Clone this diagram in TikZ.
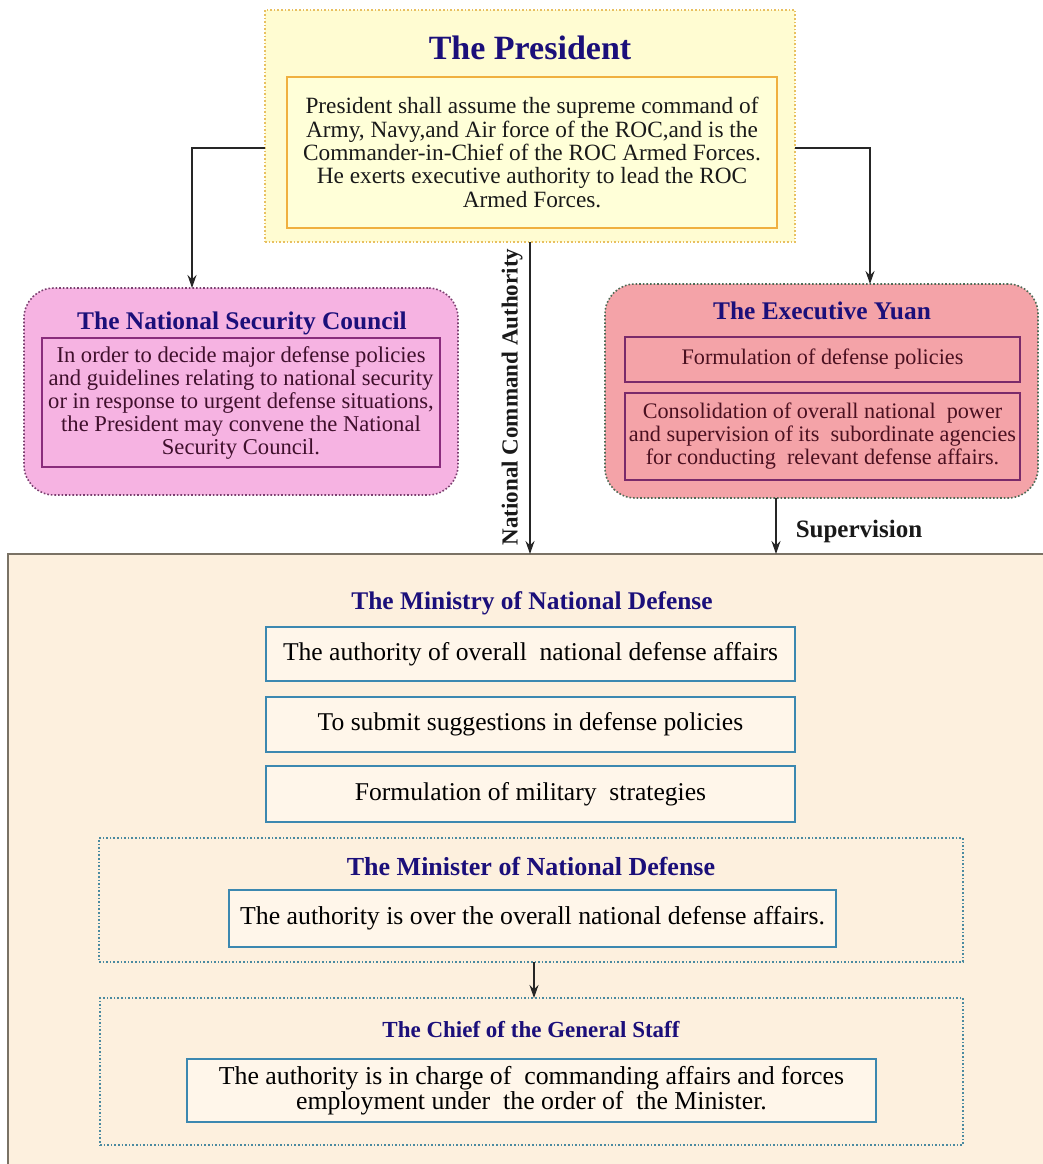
\documentclass[tikz,border=0pt]{standalone}
\usepackage{fontspec}
\setmainfont{Liberation Serif}
\usetikzlibrary{arrows.meta,calc}
\definecolor{navy}{HTML}{1B0F7A}
\definecolor{pyel}{HTML}{FFFCD2}
\definecolor{pyelin}{HTML}{FFFFD8}
\definecolor{porange}{HTML}{F0B040}
\definecolor{pdot}{HTML}{E8C060}
\definecolor{nscpink}{HTML}{F6B3E2}
\definecolor{nscline}{HTML}{8A2C7C}
\definecolor{nscdot}{HTML}{7A4070}
\definecolor{nsctext}{HTML}{3F0F2C}
\definecolor{eyred}{HTML}{F4A3A8}
\definecolor{eydot}{HTML}{4E6A55}
\definecolor{eyline}{HTML}{7A2A6A}
\definecolor{eytext}{HTML}{4A1020}
\definecolor{beige}{HTML}{FDF0DE}
\definecolor{panelline}{HTML}{7A7265}
\definecolor{mndblue}{HTML}{3C88B0}
\definecolor{mndfill}{HTML}{FFF6EA}
\definecolor{mindot}{HTML}{4A8AA0}
\tikzset{
  box/.style={rectangle,inner sep=0pt,outer sep=0pt,align=center},
  presouter/.style={box,draw=pdot,fill=pyel,line width=1.6pt,dotted},
  presinner/.style={box,draw=porange,fill=pyelin,line width=2.5pt,font=\fontsize{23.3}{23.3}\selectfont,text=black!90},
  bigtitle/.style={font=\bfseries\fontsize{34}{36}\selectfont,text=navy},
  title/.style={font=\bfseries\fontsize{25.4}{27}\selectfont,text=navy},
  nscouter/.style={box,draw=nscdot,fill=nscpink,line width=1.6pt,dotted,rounded corners=30pt},
  nscinner/.style={box,draw=nscline,fill=nscpink,line width=2.2pt,font=\fontsize{22.6}{23}\selectfont,text=nsctext},
  eyouter/.style={box,draw=eydot,fill=eyred,line width=1.6pt,dotted,rounded corners=30pt},
  eyinner/.style={box,draw=eyline,fill=eyred,line width=2.2pt,font=\fontsize{22.2}{23}\selectfont,text=eytext},
  mndbox/.style={box,draw=mndblue,fill=mndfill,line width=2.5pt,font=\fontsize{25.6}{25}\selectfont,text=black},
  mindotbox/.style={box,draw=mindot,line width=1.6pt,dotted},
  arr/.style={draw=black!85,line width=1.3pt,-{Stealth[length=13pt,width=9pt]}},
  lbl/.style={font=\bfseries\fontsize{23}{25}\selectfont,text=black!90}
}
\begin{document}
\begin{tikzpicture}[x=1pt,y=-1pt]
\useasboundingbox (0,0) rectangle (1043,1164);
\fill[white] (0,0) rectangle (1043,1164);
% bottom panel
\node[box,fill=beige,minimum width=1035pt,minimum height=610pt] (panel) at (525.5,859) {};
\draw[panelline,line width=1.6pt] (panel.south west) -- (panel.north west) -- (panel.north east);
% President
\node[presouter,minimum width=530pt,minimum height=232pt] (pres) at (530,126) {};
\node[bigtitle] (prestitle) at (530,48) {The President};
\node[presinner,minimum width=490pt,minimum height=151pt] (presbody) at (532,152.5)
 {President shall assume the supreme command of\\Army, Navy,and Air force of the ROC,and is the\\Commander-in-Chief of the ROC Armed Forces.\\He exerts executive authority to lead the ROC\\Armed Forces.};
% NSC
\node[nscouter,minimum width=434pt,minimum height=207pt] (nsc) at (241,391.5) {};
\node[title] (nsctitle) at (242,323) {The National Security Council};
\node[nscinner,minimum width=398pt,minimum height=129pt] (nscbody) at (241,402.5)
 {In order to decide major defense policies\\and guidelines relating to national security\\or in response to urgent defense situations,\\the President may convene the National\\Security Council.};
% EY
\node[eyouter,minimum width=433pt,minimum height=214pt] (ey) at (821.5,391) {};
\node[title] (eytitle) at (822,311) {The Executive Yuan};
\node[eyinner,minimum width=395pt,minimum height=45pt] (ey1) at (822.5,359.5) {Formulation of defense policies};
\node[eyinner,minimum width=395pt,minimum height=87pt] (ey2) at (822.5,436.5)
 {Consolidation of overall national\ \ power\\and supervision of its\ \ subordinate agencies\\for conducting\ \ relevant defense affairs.};
% MND
\node[title] (mndtitle) at (532,603) {The Ministry of National Defense};
\node[mndbox,minimum width=529pt,minimum height=54pt] (mnd1) at (530.5,654) {The authority of overall\ \ national defense affairs};
\node[mndbox,minimum width=529pt,minimum height=55pt] (mnd2) at (530.5,724.5) {To submit suggestions in defense policies};
\node[mndbox,minimum width=529pt,minimum height=56pt] (mnd3) at (530.5,794) {Formulation of military\ \ strategies};
% Minister
\node[mindotbox,minimum width=864pt,minimum height=124pt] (minister) at (531,900) {};
\node[title,font=\bfseries\fontsize{26}{27}\selectfont] (mintitle) at (531,866) {The Minister of National Defense};
\node[mndbox,minimum width=607pt,minimum height=57pt,font=\fontsize{25.8}{26}\selectfont] (minbody) at (532.5,918.5) {The authority is over the overall national defense affairs.};
% Chief
\node[mindotbox,minimum width=863pt,minimum height=147pt] (chief) at (531.5,1071.5) {};
\node[title,font=\bfseries\fontsize{23}{25}\selectfont] (chieftitle) at (531,1030) {The Chief of the General Staff};
\node[mndbox,minimum width=689pt,minimum height=63pt,font=\fontsize{25.8}{24.5}\selectfont] (chiefbody) at (531.5,1090.5)
 {The authority is in charge of\ \ commanding affairs and forces\\employment under\ \ the order of\ \ the Minister.};
% connectors
\draw[arr] ([yshift=-22pt]pres.west) -| ([xshift=-49pt]nsc.north);
\draw[arr] ([yshift=-22pt]pres.east) -| ([xshift=48.5pt]ey.north);
\draw[arr] (pres.south) -- (pres.south |- panel.north);
\draw[arr] ([xshift=-45.5pt]ey.south) -- ([xshift=-45.5pt]ey.south |- panel.north);
\draw[arr] ([xshift=3pt]minister.south) -- ([xshift=3pt]minister.south |- chief.north);
% labels
\node[lbl,rotate=90] (ncalbl) at (512,397) {National Command Authority};
\node[lbl,font=\bfseries\fontsize{25}{27}\selectfont] (suplbl) at (859,531) {Supervision};
\end{tikzpicture}
\end{document}
